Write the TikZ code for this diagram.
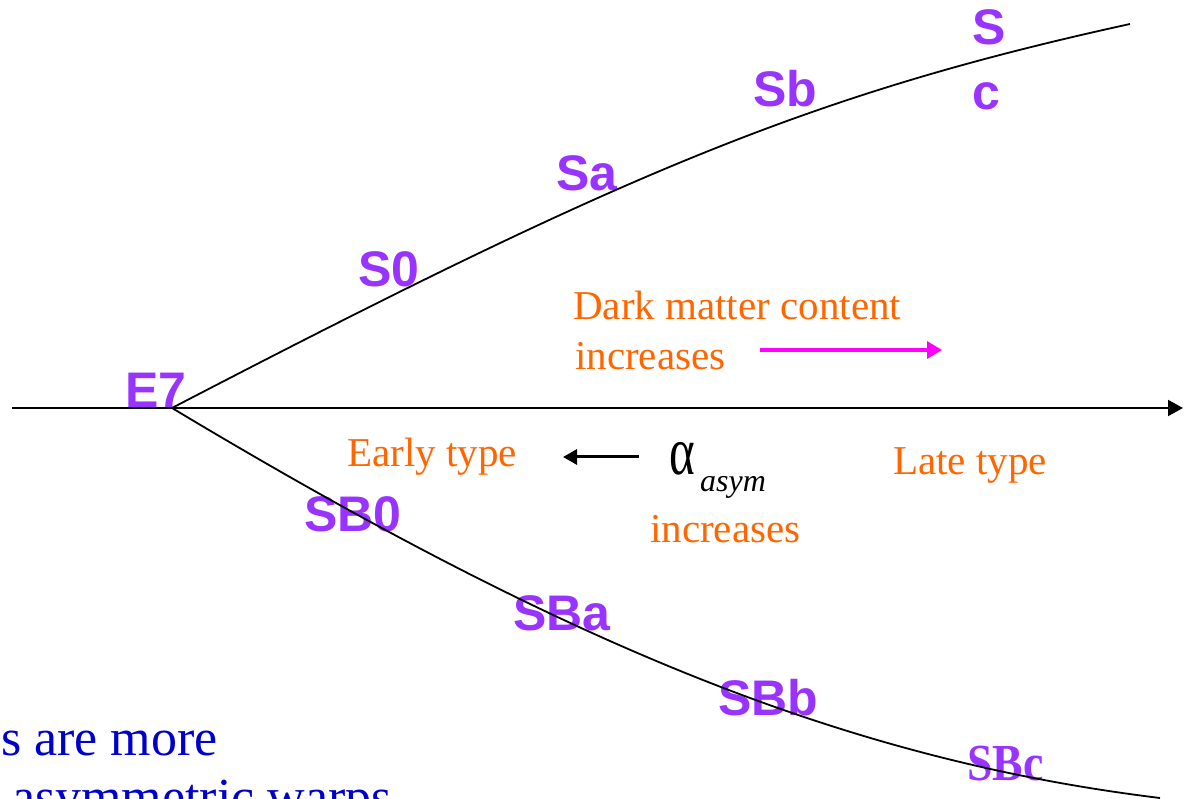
\documentclass[tikz,border=0pt]{standalone}
\usepackage{fontspec}
\setmainfont{Liberation Serif}
\newfontfamily\labelsans{Liberation Sans}
\usetikzlibrary{arrows.meta}
\definecolor{typepurple}{HTML}{9933FF}
\definecolor{noteorange}{HTML}{FF6600}
\definecolor{noteblue}{HTML}{0000CC}
\definecolor{dmpink}{HTML}{FF00FF}

\begin{document}
\begin{tikzpicture}[x=1pt,y=-1pt,
  branch/.style={draw=black, line width=1.8pt},
  typelbl/.style={text=typepurple, font=\labelsans\bfseries\fontsize{50}{60}\selectfont,
    anchor=base west, inner sep=0pt},
  seriflbl/.style={text=typepurple, font=\bfseries\fontsize{52}{62}\selectfont,
    anchor=base west, inner sep=0pt, xscale=0.88},
  note/.style={text=noteorange, font=\fontsize{41}{49}\selectfont,
    anchor=base west, inner sep=0pt},
  bluetext/.style={text=noteblue, font=\fontsize{52}{62}\selectfont,
    anchor=base west, inner sep=0pt},
  headtip/.style={-{Triangle[length=15pt,width=16pt]}}
]
\useasboundingbox (0,0) rectangle (1192,799);
\clip (0,0) rectangle (1192,799);

% key points of the tuning fork
\coordinate (axisL) at (12,408);
\coordinate (axisR) at (1183,408);
\coordinate (hub)   at (172,408);
\coordinate (spiralEnd) at (1130,24);
\coordinate (barEnd)    at (1160,798);

% Hubble types, ordinary spirals
\node[typelbl] (e7) at (125,408) {E7};
\node[typelbl] (s0) at (358,287) {S0};
\node[typelbl] (sa) at (556,191) {Sa};
\node[typelbl] (sb) at (753,107) {Sb};
\node[typelbl] (scS) at (972,45) {S};
\node[typelbl] (scC) at (972,110) {c};

% Hubble types, barred spirals
\node[typelbl] (sb0) at (304,531) {SB0};
\node[typelbl] (sba) at (513,630) {SBa};
\node[typelbl] (sbb) at (718,715) {SBb};
\node[seriflbl] (sbc) at (967,780) {SBc};

% annotations
\node[note] (dm1) at (573,320) {Dark matter content};
\node[note] (dm2) at (575,370) {increases};
\coordinate (dmA) at (760,350);
\coordinate (dmB) at (942,350);

\node[note] (early) at (347,467) {Early type};
\node[note] (late) at (893,475) {Late type};
\coordinate (earlyA) at (639,457);
\coordinate (earlyB) at (563,457);

\node[anchor=base west, inner sep=0pt, xscale=0.72,
  font=\fontsize{68}{72}\selectfont] (alpha) at (669,475) {α};
\node[anchor=base west, inner sep=0pt,
  font=\itshape\fontsize{32}{36}\selectfont] (asym) at (700,492) {asym};
\node[note] (alphainc) at (650,542) {increases};

\node[bluetext] (blue1) at (1,755) {s are more};
\node[bluetext] (blue2) at (12,814) {asymmetric warps};

% fork branches and axis
\draw[branch] (hub) .. controls (622,174) and (810,94) .. (spiralEnd);
\draw[branch] (hub) .. controls (572,648) and (850,760) .. (barEnd);
\draw[headtip, line width=2pt] (axisL) -- (axisR);

% arrows
\draw[-{Triangle[length=15pt,width=17pt]}, draw=dmpink, fill=dmpink, line width=3.5pt]
  (dmA) -- (dmB);
\draw[-{Triangle[length=14pt,width=15pt]}, line width=3pt] (earlyA) -- (earlyB);
\end{tikzpicture}
\end{document}
